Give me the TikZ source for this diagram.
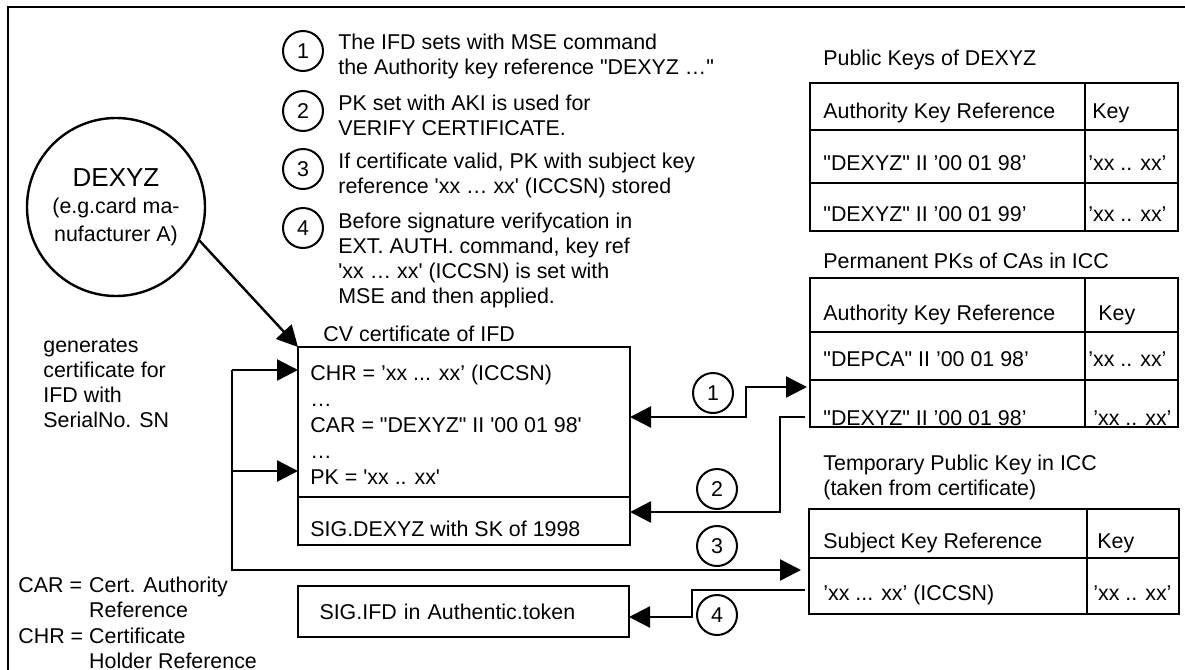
\documentclass[tikz,border=0pt]{standalone}
\usepackage{fontspec}
\setmainfont{Liberation Sans}[Ligatures=TeXOff]
\usetikzlibrary{arrows.meta}

\begin{document}
\begin{tikzpicture}[x=0.5pt, y=-0.5pt,
  font=\fontsize{10.7pt}{12.6pt}\selectfont,
  >={Triangle[length=10.5pt,width=10.5pt]},
  txt/.style={inner sep=0pt},
  numc/.style={circle, draw, line width=1pt, minimum size=20pt, inner sep=0pt},
  box/.style={draw, line width=1.2pt, inner sep=0pt, outer sep=0pt},
  rule/.style={line width=1.2pt},
  conn/.style={line width=1.2pt}]

\useasboundingbox (0,0) rectangle (1185,670);

% Frame
\draw[line width=1.3pt] (8,670) -- (8,7) -- (1185,7);

% Explanation of the steps
\foreach \n/\y in {1/51,2/111,3/169,4/228}
  \node[numc] (item\n) at (303,\y) {\n};
\node[txt, anchor=west, align=left] (note1) at (338,56.5) {The IFD sets with MSE command\\the Authority key reference "DEXYZ …"};
\node[txt, anchor=west, align=left] (note2) at (338,115.5) {PK set with AKI is used for\\VERIFY CERTIFICATE.};
\node[txt, anchor=west, align=left] (note3) at (338,175.5) {If certificate valid, PK with subject key\\reference 'xx … xx' (ICCSN) stored};
\node[txt, anchor=west, align=left] (note4) at (338,260.5) {Before signature verifycation in\\EXT. AUTH. command, key ref\\'xx … xx' (ICCSN) is set with\\MSE and then applied.};

% Card manufacturer
\node[circle, draw, line width=1.2pt, minimum size=89pt, inner sep=0pt, align=center,
  font=\fontsize{10.7pt}{13.7pt}\selectfont] (dexyz) at (116,207)
  {{\fontsize{13pt}{15pt}\selectfont DEXYZ}\\(e.g.card ma-\\nufacturer A)};
\node[txt, anchor=west, align=left] (gentext) at (43,383) {generates\\certificate for\\IFD with\\SerialNo. SN};

% Legend
\node[txt, anchor=west] (legend) at (18,625.5) {\begin{tabular}{@{}l@{\hspace{3pt}}l@{}}
  CAR = & Cert. Authority\\
        & Reference\\
  CHR = & Certificate\\
        & Holder Reference
\end{tabular}};

% CV certificate
\node[txt, anchor=base west] (certtitle) at (323,341) {CV certificate of IFD};
\node[box, anchor=north west, minimum width=166pt, minimum height=99pt] (cert) at (298,347) {};
\coordinate (sigline) at (298,497);
\draw[rule] (sigline) -- (sigline -| cert.east);
\node[txt, anchor=west, align=left, font=\fontsize{10.7pt}{13pt}\selectfont] (certtext) at (310,425)
  {CHR = ’xx ... xx’ (ICCSN)\\…\\CAR = "DEXYZ" II '00 01 98'\\…\\PK = 'xx .. xx'};
\node[txt, anchor=base west] (certsig) at (310,536) {SIG.DEXYZ with SK of 1998};

% Authentication token
\node[box, anchor=north west, minimum width=165.5pt, minimum height=25.5pt,
  inner xsep=10.5pt, text width=144pt, align=left] (sig) at (298,586) {SIG.IFD in Authentic.token};

% Public keys of DEXYZ
\node[txt, anchor=base west] (pubtitle) at (823,65) {Public Keys of DEXYZ};
\node[box, anchor=north west, minimum width=184pt, minimum height=74pt] (pubtab) at (810,83) {};
\draw[rule] (1085,83) -- (1085,231) (810,130) -- (1178,130) (810,183) -- (1178,183);
\node[txt, anchor=base west] (pubhead) at (823,118) {Authority Key Reference};
\node[txt, anchor=base west] (pubkey) at (1092,118) {Key};
\node[txt, anchor=base west] (pubref1) at (823,170) {"DEXYZ" II ’00 01 98’};
\node[txt, anchor=base west] (pubval1) at (1088,170) {’xx .. xx’};
\node[txt, anchor=base west] (pubref2) at (823,221) {"DEXYZ" II ’00 01 99’};
\node[txt, anchor=base west] (pubval2) at (1088,221) {’xx .. xx’};

% Permanent PKs of CAs
\node[txt, anchor=base west] (permtitle) at (823,268) {Permanent PKs of CAs in ICC};
\node[box, anchor=north west, minimum width=184pt, minimum height=74.5pt] (permtab) at (810,278) {};
\draw[rule] (1085,278) -- (1085,427) (810,332) -- (1178,332) (810,380) -- (1178,380);
\node[txt, anchor=base west] (permhead) at (823,320) {Authority Key Reference};
\node[txt, anchor=base west] (permkey) at (1098,320) {Key};
\node[txt, anchor=base west] (permref1) at (823,366) {"DEPCA" II ’00 01 98’};
\node[txt, anchor=base west] (permval1) at (1088,366) {’xx .. xx’};
\node[txt, anchor=base west] (permref2) at (823,425) {"DEXYZ" II ’00 01 98’};
\node[txt, anchor=base west] (permval2) at (1093,425) {’xx .. xx’};

% Temporary public key
\node[txt, anchor=west, align=left] (temptitle) at (823,477.5) {Temporary Public Key in ICC\\(taken from certificate)};
\node[box, anchor=north west, minimum width=185pt, minimum height=52.5pt] (temptab) at (809,509) {};
\draw[rule] (1087,509) -- (1087,614) (809,558) -- (1179,558);
\node[txt, anchor=base west] (temphead) at (823,548) {Subject Key Reference};
\node[txt, anchor=base west] (tempkey) at (1097,548) {Key};
\node[txt, anchor=base west] (tempref) at (823,600) {’xx ... xx’ (ICCSN)};
\node[txt, anchor=base west] (tempval) at (1093,600) {’xx .. xx’};

% Connectors
\draw[conn, ->] (dexyz.-22) -- (cert.north west);

\coordinate (gen) at (232,370);
\coordinate (pkfork) at (232,471);
\coordinate (in3) at (801,570);
\draw[conn, ->] (gen) -- (cert.west |- gen);
\draw[conn, ->] (pkfork) -- (cert.west |- pkfork);
\draw[conn, ->] (gen) |- (in3);

\coordinate (bend1) at (746,417);
\coordinate (in1) at (807,387);
\draw[conn, <->] (cert.east |- bend1) -- (bend1) |- (in1);

\coordinate (out2) at (805,417);
\coordinate (bend2) at (780,512);
\draw[conn, ->] (out2) -| (bend2) -- (cert.east |- bend2);

\coordinate (out4) at (805,590);
\coordinate (bend4) at (692,617);
\draw[conn, ->] (out4) -| (bend4) -- (sig.east |- bend4);

\foreach \n/\x/\y in {1/713/393, 2/717/489, 3/717/546, 4/717/615}
  \node[numc] (stage\n) at (\x,\y) {\n};

\end{tikzpicture}
\end{document}
